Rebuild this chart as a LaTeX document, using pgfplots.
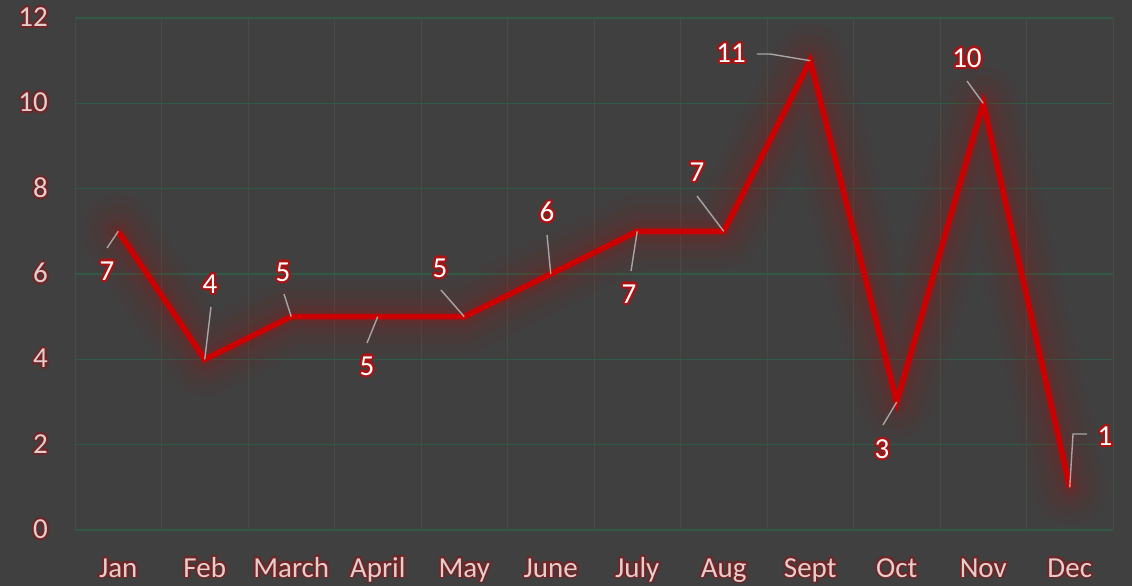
\documentclass[border=0pt]{standalone}
\usepackage{pgfplots}
\pgfplotsset{compat=1.18}
\usepackage{pgfplotstable}
\usepackage{fontspec}
\setmainfont{Carlito}
\usepackage[copies]{contour}
\contournumber{16}
\definecolor{bg}{HTML}{404040}
\definecolor{hgrid}{HTML}{2F5A45}
\definecolor{vgrid}{HTML}{4A4C42}
\definecolor{linered}{HTML}{CC0000}
\definecolor{lead}{HTML}{A6A6A6}
\definecolor{ticktext}{HTML}{E3CDCD}
\definecolor{tickglowc}{HTML}{702626}
\definecolor{labglowc}{HTML}{A81414}
\newcommand{\glowtick}[1]{\contourlength{1.9pt}\textcolor{ticktext}{\contour{tickglowc}{#1}}}
\newcommand{\glowlab}[1]{\contourlength{2.2pt}\textcolor{white}{\contour{labglowc}{#1}}}
\pgfplotstableread{
x y lx ly
0 7 -0.130 6.047
1 4 1.061 5.742
2 5 1.905 6.023
3 5 2.876 3.820
4 5 3.720 6.117
5 6 4.957 7.430
6 7 5.905 5.508
7 7 6.691 8.367
8 11 7.084 11.156
9 3 8.829 1.875
10 10 9.812 11.040
11 1 11.408 2.180
}\data
\begin{document}
\begin{tikzpicture}
\fill[bg] (0,0) rectangle (1132pt,586pt);
\path[use as bounding box] (0,0) rectangle (1132pt,586pt);
\begin{axis}[
  at={(75pt,56pt)}, anchor=south west,
  scale only axis, width=1038pt, height=512pt,
  xmin=-0.5, xmax=11.5, ymin=0, ymax=12,
  xtick={0,...,11},
  minor xtick={-0.5,0.5,...,11.5},
  ytick={0,2,...,12},
  xticklabels={\glowtick{Jan},\glowtick{Feb},\glowtick{March},\glowtick{April},\glowtick{May},\glowtick{June},\glowtick{July},\glowtick{Aug},\glowtick{Sept},\glowtick{Oct},\glowtick{Nov},\glowtick{Dec}},
  yticklabel={\glowtick{\pgfmathprintnumber{\tick}}},
  /pgf/number format/assume math mode=true,
  ymajorgrids, xminorgrids,
  major grid style={hgrid, line width=1.3pt},
  minor grid style={vgrid, line width=0.8pt},
  axis line style={draw=none},
  major tick style={draw=none}, minor tick style={draw=none},
  tick label style={font=\fontsize{29}{33}\selectfont},
  yticklabel style={anchor=east, inner sep=0pt, xshift=-27pt},
  xticklabel style={anchor=base, inner sep=0pt, yshift=-47pt},
  clip=false,
]
\addplot[linered, line width=74pt, opacity=0.035, line join=round, line cap=round] table[x=x,y=y]{\data};
\addplot[linered, line width=54pt, opacity=0.04, line join=round, line cap=round] table[x=x,y=y]{\data};
\addplot[linered, line width=36pt, opacity=0.05, line join=round, line cap=round] table[x=x,y=y]{\data};
\addplot[linered, line width=22pt, opacity=0.06, line join=round, line cap=round] table[x=x,y=y]{\data};
\addplot[linered, line width=12pt, opacity=0.10, line join=round, line cap=round] table[x=x,y=y]{\data};
\addplot[linered, line width=5.5pt, line join=miter] table[x=x,y=y]{\data};
\addplot[lead, line width=1.4pt, unbounded coords=jump] coordinates {
 (0,7) (-0.130,6.609) (nan,nan)
 (1,4) (1.072,5.227) (nan,nan)
 (2,5) (1.916,5.531) (nan,nan)
 (3,5) (2.876,4.383) (nan,nan)
 (4,5) (3.731,5.625) (nan,nan)
 (5,6) (4.957,6.914) (nan,nan)
 (6,7) (5.928,6.070) (nan,nan)
 (7,7) (6.691,7.828) (nan,nan)
 (8,11) (7.535,11.156) (7.384,11.156) (nan,nan)
 (9,3) (8.841,2.461) (nan,nan)
 (10,10) (9.812,10.523) (nan,nan)
 (11,1) (11.038,2.250) (11.199,2.250)
};
\addplot[draw=none, mark=none, point meta=explicit,
  nodes near coords={\glowlab{\pgfmathprintnumber{\pgfplotspointmeta}}},
  nodes near coords style={anchor=center, inner sep=0pt, font=\fontsize{29}{33}\selectfont}]
  table[x=lx, y=ly, meta=y]{\data};
\end{axis}
\end{tikzpicture}
\end{document}
